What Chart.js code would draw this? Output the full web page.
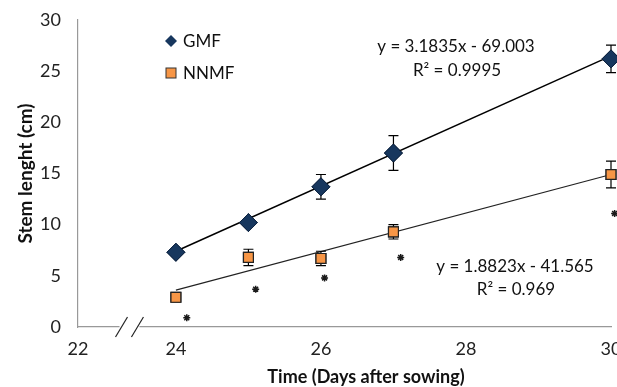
<!DOCTYPE html>
<html>
<head>
<meta charset="utf-8">
<script src="https://cdn.jsdelivr.net/npm/chart.js@4"></script>
<style>
  html, body { margin: 0; padding: 0; background: #fff; }
  #wrap { width: 617px; height: 387px; overflow: hidden; }
</style>
</head>
<body>
<div id="wrap"><canvas id="myChart" width="617" height="387"></canvas></div>
<script>
// days after sowing
const days = [24, 25, 26, 27, 30];
const gmf = [7.3, 10.2, 13.7, 17.0, 26.2];
const gmfErr = [0.3, 0.3, 1.2, 1.7, 1.35];
const nnmf = [2.9, 6.8, 6.7, 9.3, 14.9];
const nnmfErr = [0.2, 0.8, 0.7, 0.7, 1.3];
// asterisk marks next to each NNMF point
const starDays = [24.15, 25.1, 26.05, 27.1, 30.05];
const starVals = [0.9, 3.7, 4.8, 6.8, 11.1];
// trendline end points
const trendDays = [24, 30];
const gmfTrend = [7.4, 26.5];
const nnmfTrend = [3.6, 14.9];

const xTicks = [22, 24, 26, 28, 30];
const xStart = 22.65; // broken axis: left edge stands for 22
const yTicks = [0, 5, 10, 15, 20, 25, 30];

const gmfColor = "#17375e";
const nnmfColor = "#f79646";
const font = "Lato, 'Open Sans', sans-serif";

const pts = (xs, ys) => xs.map((x, i) => ({ x: x, y: ys[i] }));

const errorBars = {
  id: "errorBars",
  afterDatasetsDraw(chart) {
    const ctx = chart.ctx;
    const xs = chart.scales.x, ys = chart.scales.y;
    const sets = [[gmf, gmfErr], [nnmf, nnmfErr]];
    ctx.save();
    ctx.strokeStyle = "#000";
    ctx.lineWidth = 1.2;
    sets.forEach(([vals, errs]) => {
      days.forEach((d, i) => {
        const px = xs.getPixelForValue(d);
        const top = ys.getPixelForValue(vals[i] + errs[i]);
        const bot = ys.getPixelForValue(vals[i] - errs[i]);
        ctx.beginPath();
        ctx.moveTo(px, top); ctx.lineTo(px, bot);
        ctx.moveTo(px - 5, top); ctx.lineTo(px + 5, top);
        ctx.moveTo(px - 5, bot); ctx.lineTo(px + 5, bot);
        ctx.stroke();
      });
    });
    ctx.restore();
    // redraw markers on top of bars
    [2, 3].forEach(di => {
      chart.getDatasetMeta(di).data.forEach(el => el.draw(ctx));
    });
  }
};

const extras = {
  id: "extras",
  afterDraw(chart) {
    const ctx = chart.ctx;
    const xs = chart.scales.x, ys = chart.scales.y;
    ctx.save();
    // axis break
    const y0 = ys.getPixelForValue(0);
    const b1 = xs.getPixelForValue(23.25), b2 = xs.getPixelForValue(23.47);
    ctx.fillStyle = "#fff";
    ctx.fillRect(b1 - 2, y0 - 2, b2 - b1 + 4, 4);
    ctx.strokeStyle = "#222";
    ctx.lineWidth = 1.2;
    [b1, b2].forEach(b => {
      ctx.beginPath();
      ctx.moveTo(b - 6, y0 + 10);
      ctx.lineTo(b + 6, y0 - 10);
      ctx.stroke();
    });
    // legend
    ctx.fillStyle = gmfColor;
    ctx.beginPath();
    ctx.moveTo(171, 35); ctx.lineTo(177, 41); ctx.lineTo(171, 47); ctx.lineTo(165, 41);
    ctx.closePath(); ctx.fill();
    ctx.fillStyle = nnmfColor;
    ctx.strokeStyle = "#333";
    ctx.lineWidth = 1;
    ctx.fillRect(166, 68, 10, 10);
    ctx.strokeRect(166, 68, 10, 10);
    ctx.fillStyle = "#111";
    ctx.font = "17px " + font;
    ctx.textBaseline = "middle";
    ctx.textAlign = "left";
    ctx.fillText("GMF", 183, 42);
    ctx.fillText("NNMF", 183, 74);
    // equations
    ctx.textAlign = "center";
    ctx.fillText("y = 3.1835x - 69.003", 456, 47);
    ctx.fillText("R² = 0.9995", 457, 71);
    ctx.fillText("y = 1.8823x - 41.565", 515, 267);
    ctx.fillText("R² = 0.969", 516, 290);
    // x axis title (sits right of the axis centre, as in the source)
    ctx.font = "bold 18px " + font;
    ctx.fillText("Time (Days after sowing)", 366, 377);
    ctx.restore();
  }
};

const ctx = document.getElementById("myChart").getContext("2d");
new Chart(ctx, {
  type: "scatter",
  data: {
    datasets: [
      {
        type: "line",
        data: pts(trendDays, gmfTrend),
        borderColor: "#000",
        borderWidth: 1.5,
        pointRadius: 0,
        fill: false
      },
      {
        type: "line",
        data: pts(trendDays, nnmfTrend),
        borderColor: "#222",
        borderWidth: 1.2,
        pointRadius: 0,
        fill: false
      },
      {
        label: "GMF",
        data: pts(days, gmf),
        pointStyle: "rectRot",
        pointRadius: 9,
        backgroundColor: gmfColor,
        borderColor: "#0f2440",
        borderWidth: 1
      },
      {
        label: "NNMF",
        data: pts(days, nnmf),
        pointStyle: "rect",
        pointRadius: 7,
        backgroundColor: nnmfColor,
        borderColor: "#222",
        borderWidth: 1.2
      },
      {
        data: pts(starDays, starVals),
        pointStyle: "star",
        pointRadius: 3.5,
        backgroundColor: "#333",
        borderColor: "#1a1a1a",
        borderWidth: 1.5
      }
    ]
  },
  options: {
    responsive: false,
    animation: false,
    clip: false,
    layout: { autoPadding: false, padding: { left: 0, top: 20, right: 6, bottom: 0 } },
    plugins: { legend: { display: false }, tooltip: { enabled: false } },
    scales: {
      x: {
        type: "linear",
        min: xStart,
        max: 30,
        afterBuildTicks: s => { s.ticks = xTicks.map(v => ({ value: v === 22 ? xStart : v })); },
        afterFit: s => { s.height = 60; s.paddingLeft = 0; s.paddingRight = 0; },
        grid: { display: false, drawTicks: true, tickLength: 7, color: "#999" },
        border: { color: "#999", width: 1.2 },
        ticks: {
          color: "#222",
          font: { family: font, size: 18 },
          padding: 4,
          maxRotation: 0,
          callback: v => (v === xStart ? "22" : v)
        },
        title: { display: false }
      },
      y: {
        min: 0,
        max: 30,
        afterBuildTicks: s => { s.ticks = yTicks.map(v => ({ value: v })); },
        afterFit: s => { s.width = 78; s.paddingTop = 0; s.paddingBottom = 0; },
        grid: { display: false, tickLength: 7, color: "#999" },
        border: { color: "#999", width: 1.2 },
        ticks: {
          color: "#222",
          font: { family: font, size: 18 },
          padding: 10
        },
        title: {
          display: true,
          text: "Stem lenght (cm)",
          color: "#111",
          font: { family: font, size: 19, weight: "bold" },
          padding: { top: 14, bottom: 0 }
        }
      }
    }
  },
  plugins: [errorBars, extras]
});
</script>
</body>
</html>
